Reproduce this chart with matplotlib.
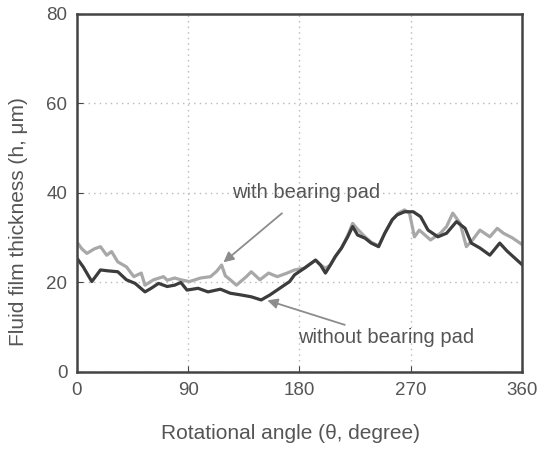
"""
Fluid film thickness vs rotational angle, with and without bearing pad
"""

import matplotlib
matplotlib.use("Agg")
import matplotlib.pyplot as plt

plt.rcParams['font.family'] = ['Liberation Sans', 'DejaVu Sans']

# without bearing pad (dark line)
ang_without = [0, 5, 12, 19, 25, 33, 40, 47, 55, 60, 66, 73, 79, 84, 89, 98,
               106, 116, 124, 133, 141, 149, 156, 164, 172, 176, 184, 193,
               197, 201, 205, 209, 214, 219, 223, 227, 233, 238, 244, 249,
               255, 259, 265, 272, 278, 284, 292, 299, 307, 314, 319, 326,
               334, 342, 348, 354, 360]
h_without = [25.4, 23.5, 20.2, 22.8, 22.6, 22.4, 20.6, 19.8, 17.9, 18.7, 19.8,
             19.1, 19.4, 20.0, 18.3, 18.7, 17.9, 18.5, 17.6, 17.2, 16.8, 16.1,
             17.2, 18.7, 20.2, 21.7, 23.2, 25.0, 23.9, 22.1, 23.9, 25.8, 27.7,
             30.2, 32.5, 30.6, 29.9, 28.8, 28.0, 31.0, 34.0, 35.1, 35.8, 35.8,
             34.7, 31.7, 30.2, 31.0, 33.6, 32.1, 28.8, 27.7, 26.1, 28.8, 27.0,
             25.5, 24.0]

# with bearing pad (light line)
ang_with = [0, 4, 8, 14, 19, 24, 28, 33, 40, 46, 52, 55, 62, 70, 73, 79, 84,
            91, 100, 108, 113, 117, 120, 124, 129, 137, 141, 148, 155, 162,
            170, 176, 184, 193, 197, 201, 205, 209, 214, 219, 223, 227, 233,
            238, 244, 249, 255, 260, 265, 269, 273, 277, 286, 294, 299, 304,
            310, 315, 320, 326, 334, 340, 345, 352, 360]
h_with = [29.0, 27.5, 26.5, 27.5, 28.0, 26.1, 26.9, 24.6, 23.5, 21.3, 22.1,
          19.4, 20.6, 21.3, 20.5, 21.0, 20.6, 20.2, 21.0, 21.3, 22.5, 23.9,
          21.5, 20.6, 19.4, 21.3, 22.4, 20.6, 22.1, 21.3, 22.1, 22.8, 23.2,
          25.0, 23.9, 23.2, 23.9, 25.8, 27.7, 30.5, 33.2, 31.9, 30.2, 29.0,
          28.2, 31.0, 34.0, 35.5, 36.2, 35.5, 30.2, 31.7, 29.5, 31.0, 32.5,
          35.5, 33.2, 28.0, 29.5, 31.7, 30.2, 32.1, 31.0, 30.0, 28.5]

x_ticks = [0, 90, 180, 270, 360]
y_ticks = [0, 20, 40, 60, 80]

txt = '#555555'

fig = plt.figure(figsize=(5.46, 4.49), dpi=100)
ax = fig.add_axes([0.141, 0.1715, 0.815, 0.7975])

ax.plot(ang_with, h_with, color='#a8a8a8', lw=2.3)
ax.plot(ang_without, h_without, color='#3c3c3c', lw=2.3)

ax.set_xlim(0, 360)
ax.set_ylim(0, 80)
ax.set_xticks(x_ticks)
ax.set_yticks(y_ticks)
ax.grid(True, color='#b8b8b8', linestyle=(0, (1, 3)), lw=1.0)
ax.tick_params(direction='in', length=4, colors='#444444', labelcolor=txt,
               labelsize=13.5, pad=7)
for s in ax.spines.values():
    s.set_color('#444444')
    s.set_linewidth(1.8)

ax.set_xlabel('Rotational angle (\u03b8, degree)', fontsize=15, color=txt)
ax.xaxis.set_label_coords(0.48, -0.145)
ax.set_ylabel('Fluid film thickness (h, \u03bcm)', fontsize=15, color=txt)
ax.yaxis.set_label_coords(-0.11, 0.42)

ax.annotate('with bearing pad', xy=(118.5, 24.5), xytext=(125.5, 40),
            fontsize=14.5, color=txt, va='center', ha='left',
            arrowprops=dict(arrowstyle='-|>', color='#8c8c8c', lw=1.3,
                            shrinkA=9, shrinkB=0, mutation_scale=15))
ax.annotate('without bearing pad', xy=(154, 16), xytext=(179, 7.6),
            fontsize=14.5, color=txt, va='center', ha='left',
            arrowprops=dict(arrowstyle='-|>', color='#8c8c8c', lw=1.3,
                            shrinkA=2, shrinkB=0, mutation_scale=15))

plt.savefig('out.png', dpi=100)
